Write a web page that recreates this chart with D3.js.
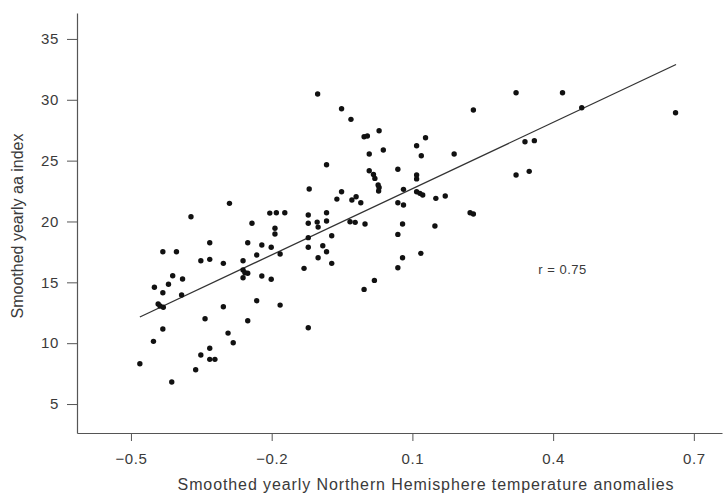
<!DOCTYPE html>
<html>
<head>
<meta charset="utf-8">
<script src="https://cdn.jsdelivr.net/npm/d3@7"></script>
<style>
  html, body { margin: 0; padding: 0; background: #fff; }
  svg { display: block; }
  text { font-family: "Liberation Sans", Arial, sans-serif; }
</style>
</head>
<body>
<svg id="chart" width="727" height="493"></svg>
<script>
// ---- data ----
const tempAnomaly = [
  -0.481,-0.413,-0.452,-0.432,-0.362,-0.351,-0.332,-0.321,-0.332,-0.293,
  -0.282,-0.342,-0.251,-0.122,-0.442,-0.438,-0.431,-0.303,-0.232,-0.182,
  -0.450,-0.432,-0.420,-0.392,-0.411,-0.390,-0.261,-0.257,-0.251,-0.261,
  -0.221,-0.201,-0.131,-0.351,-0.332,-0.303,-0.232,-0.182,-0.101,-0.261,
  -0.432,-0.403,-0.332,-0.251,-0.221,-0.201,-0.122,-0.122,-0.091,-0.083,
  -0.242,-0.193,-0.193,-0.122,-0.103,-0.101,-0.083,-0.204,-0.190,-0.172,
  -0.122,-0.083,-0.372,-0.290,-0.120,-0.083,
  -0.102,-0.051,-0.031,-0.003,0.004,0.029,0.128,0.109,0.008,0.038,
  0.119,0.189,0.230,0.008,0.017,0.020,0.027,0.029,0.028,0.069,
  0.109,0.109,-0.051,0.081,0.109,0.116,0.122,0.150,0.170,-0.061,
  -0.029,-0.020,-0.010,0.069,0.081,-0.033,-0.022,-0.001,0.079,0.148,
  0.223,0.230,0.069,-0.072,-0.072,0.079,0.118,0.069,0.019,-0.003,
  0.321,0.420,0.461,0.661,0.340,0.360,0.321,0.349
];
const aaIndex = [
  8.31,6.81,10.15,11.16,7.82,9.03,8.67,8.67,9.58,10.83,
  10.04,12.01,11.84,11.27,13.22,13.05,12.95,12.99,13.49,13.13,
  14.59,14.15,14.84,13.96,15.54,15.27,16.01,15.79,15.74,15.38,
  15.52,15.25,16.15,16.77,16.89,16.56,17.24,17.33,17.02,16.77,
  17.51,17.51,18.25,18.25,18.07,17.88,18.67,17.88,18.01,17.51,
  19.85,19.44,18.97,19.85,19.95,19.54,20.04,20.69,20.72,20.72,
  20.53,20.72,20.39,21.49,22.67,24.66,
  30.47,29.26,28.39,26.96,27.02,27.46,26.88,26.22,25.54,25.87,
  25.40,25.54,29.16,24.17,23.87,23.54,23.00,22.80,22.50,24.29,
  23.82,23.50,22.44,22.64,22.44,22.31,22.17,21.90,22.09,21.84,
  21.76,22.03,21.54,21.54,21.35,19.98,19.93,19.79,19.79,19.63,
  20.72,20.61,18.94,18.83,16.56,17.02,17.38,16.20,15.16,14.42,
  30.58,30.58,29.35,28.94,26.55,26.64,23.82,24.12
];
const fitX = [-0.481, 0.662];
const fitY = [12.15, 32.9];
const xTicks = [-0.5, -0.2, 0.1, 0.4, 0.7];
const yTicks = [5, 10, 15, 20, 25, 30, 35];
const xTitle = "Smoothed yearly Northern Hemisphere temperature anomalies";
const yTitle = "Smoothed yearly aa index";
const rLabel = "r = 0.75";
const rLabelPos = [0.42, 15.7];

// ---- drawing ----
const svg = d3.select("#chart");
const x = d3.scaleLinear().domain([-0.615, 0.760]).range([77, 722]);
const y = d3.scaleLinear().domain([2.62, 37.13]).range([433, 13]);

const axisColor = "#555";
const textColor = "#3a3a3a";

const xAxis = d3.axisBottom(x).tickValues(xTicks).tickFormat(d3.format(".1f"))
  .tickSize(8).tickSizeOuter(0).tickPadding(12);
const gx = svg.append("g").attr("transform", "translate(0,433)").call(xAxis);

const yAxis = d3.axisLeft(y).tickValues(yTicks).tickFormat(d3.format("d"))
  .tickSize(10).tickSizeOuter(0).tickPadding(8);
const gy = svg.append("g").attr("transform", "translate(77,0)").call(yAxis);

[gx, gy].forEach(g => {
  g.select(".domain").attr("stroke", axisColor).attr("stroke-width", 1.2);
  g.selectAll(".tick line").attr("stroke", axisColor).attr("stroke-width", 1);
  g.selectAll(".tick text").attr("fill", textColor).attr("font-size", 15)
    .attr("letter-spacing", 0.6)
    .attr("font-family", "'Liberation Sans', Arial, sans-serif");
});

// regression line
svg.append("path")
  .datum(fitX.map((d, i) => [d, fitY[i]]))
  .attr("d", d3.line().x(d => x(d[0])).y(d => y(d[1])))
  .attr("fill", "none").attr("stroke", "#333").attr("stroke-width", 1.3);

// points
svg.append("g").selectAll("circle")
  .data(tempAnomaly.map((d, i) => [d, aaIndex[i]]))
  .join("circle")
  .attr("cx", d => x(d[0])).attr("cy", d => y(d[1]))
  .attr("r", 2.7).attr("fill", "#111");

// r label
svg.append("text")
  .attr("x", x(rLabelPos[0])).attr("y", y(rLabelPos[1]))
  .attr("text-anchor", "middle").attr("font-size", 13).attr("letter-spacing", 0.5)
  .attr("fill", textColor)
  .text(rLabel);

// axis titles
svg.append("text")
  .attr("x", 426).attr("y", 490)
  .attr("text-anchor", "middle").attr("font-size", 16).attr("letter-spacing", 0.9)
  .attr("fill", textColor)
  .text(xTitle);

svg.append("text")
  .attr("transform", "translate(23,226) rotate(-90)")
  .attr("text-anchor", "middle").attr("font-size", 16).attr("fill", textColor)
  .text(yTitle);
</script>
</body>
</html>
